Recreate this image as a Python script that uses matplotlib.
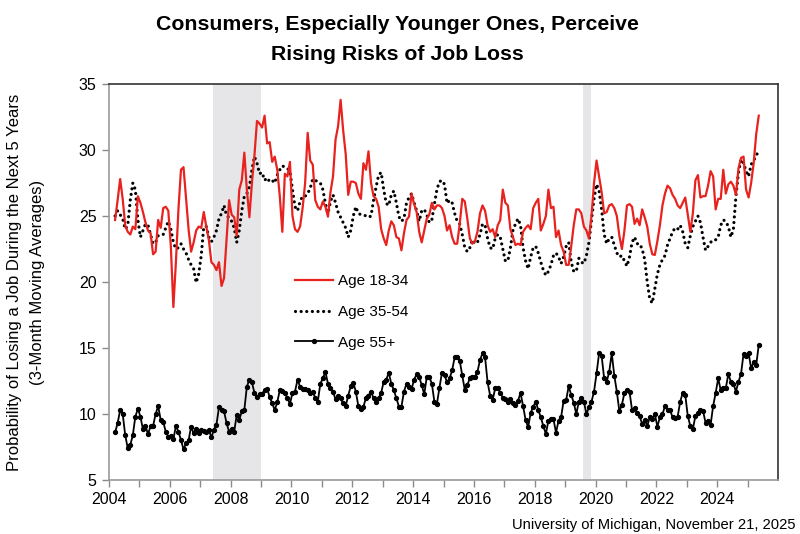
import numpy as np
import matplotlib
matplotlib.use("Agg")
import matplotlib.pyplot as plt

plt.rcParams['font.family'] = ['Liberation Sans', 'DejaVu Sans']

# ---------------- data (monthly, 3-month moving averages) ----------------
start_pos = 2004.2          # axis position of first month
age_18_34 = [
    24.7, 26.2, 27.8, 26.3, 24.3, 23.8, 23.6, 24.2, 24.0, 26.5,
    26.0, 25.3, 24.5, 23.9, 23.7, 22.1, 22.3, 24.7, 24.1, 25.6,
    25.7, 25.4, 22.7, 18.1, 21.5, 25.5, 28.5, 28.7, 26.3, 24.0,
    22.3, 23.0, 23.9, 24.2, 24.1, 25.3, 24.2, 23.2, 21.5, 21.3,
    20.9, 21.5, 19.7, 20.3, 23.3, 26.2, 25.1, 24.9, 23.5, 27.0,
    27.7, 29.8, 27.0, 24.9, 27.5, 29.6, 32.2, 32.0, 31.7, 32.6,
    30.5, 30.6, 29.1, 29.5, 28.5, 26.5, 23.8, 28.2, 28.0, 29.1,
    25.0, 24.0, 23.8, 24.2, 25.6, 27.5, 31.3, 29.2, 28.9, 26.2,
    25.7, 25.5, 26.1, 25.7, 24.95, 26.8, 28.0, 30.8, 31.8, 33.8,
    31.5, 29.7, 26.6, 27.6, 27.6, 27.5, 26.7, 26.3, 29.0, 28.5,
    29.9, 27.5, 26.5, 26.3, 25.7, 24.0, 23.3, 22.8, 23.9, 24.6,
    24.3, 23.4, 23.3, 22.4, 23.7, 24.7, 24.95, 26.7, 25.9, 25.3,
    23.8, 23.0, 23.9, 24.8, 25.1, 26.0, 25.5, 25.8, 25.8, 25.6,
    25.0, 23.9, 24.3, 23.4, 22.9, 22.9, 24.4, 26.3, 26.1, 24.8,
    23.3, 22.9, 23.1, 23.8, 25.2, 25.8, 25.4, 24.3, 23.8, 24.0,
    23.4, 24.3, 24.7, 27.0, 26.0, 25.8, 24.0, 23.4, 22.8, 22.9,
    22.8, 23.8, 24.1, 24.3, 24.0, 25.6, 26.0, 26.3, 23.9, 24.4,
    25.0, 27.0, 25.6, 25.7, 23.4, 23.9, 22.8, 22.3, 21.3, 21.3,
    22.7, 24.3, 25.5, 25.5, 25.2, 24.2, 23.9, 23.3, 25.0, 27.5,
    29.2, 28.0, 26.8, 25.2, 25.3, 25.8, 25.9, 25.6, 25.0, 23.5,
    22.5, 23.9, 25.8, 25.9, 25.7, 24.4, 24.8, 24.3, 25.5, 24.9,
    24.2, 22.9, 22.1, 22.05, 23.1, 24.3, 25.8, 26.7, 27.3, 27.1,
    26.6, 26.3, 25.8, 25.6, 26.0, 26.4, 25.1, 23.8, 25.2, 27.7,
    28.1, 26.4, 26.5, 26.5, 27.3, 28.4, 28.0, 25.5, 26.3, 26.3,
    28.5, 26.7, 27.4, 27.6, 27.3, 26.6, 28.6, 29.4, 29.5, 27.0,
    26.4, 27.5, 29.0, 31.2, 32.6,
]
age_35_54 = [
    25.0, 25.4, 25.1, 24.8, 24.0, 24.3, 26.2, 27.5, 27.0, 24.7,
    23.4, 23.9, 24.4, 24.3, 23.6, 22.9, 23.0, 23.5, 23.6, 23.6,
    24.1, 24.6, 24.0, 23.0, 22.5, 22.6, 22.9, 22.5, 22.2, 21.7,
    21.3, 21.0, 19.95, 20.6, 22.0, 24.2, 24.2, 23.4, 23.05, 23.4,
    23.9, 24.8, 25.2, 25.8, 25.0, 24.9, 24.6, 24.1, 23.0, 23.9,
    25.4, 26.5, 26.7, 27.2, 28.5, 29.5, 29.0, 28.2, 28.3, 27.7,
    27.9, 27.6, 27.7, 27.5, 28.1, 28.5, 28.8, 28.7, 28.6, 28.4,
    27.0, 25.7, 25.4, 26.1, 26.5, 26.5, 26.7, 27.1, 27.8, 27.7,
    27.6, 27.5, 27.0, 25.96, 25.2, 26.1, 26.6, 26.0, 25.3, 24.9,
    24.5, 24.1, 23.4, 23.9, 25.0, 25.7, 25.2, 25.1, 25.1, 25.0,
    24.9, 25.0, 26.2, 27.2, 28.1, 28.3, 27.0, 25.96, 25.8, 26.6,
    26.9, 26.0, 24.95, 24.6, 24.8, 26.0, 26.4, 26.7, 26.0, 25.4,
    24.6, 25.4, 25.5, 25.1, 24.5, 24.7, 25.9, 27.0, 27.6, 27.7,
    27.4, 25.96, 26.2, 26.0, 25.2, 24.6, 24.4, 23.6, 22.6, 22.3,
    22.6, 23.2, 22.9, 23.0, 23.6, 24.4, 24.3, 23.3, 22.6, 22.5,
    23.3, 23.6, 23.4, 22.5, 21.6, 21.6, 22.6, 23.9, 24.4, 24.8,
    24.3, 22.6, 21.6, 21.0, 21.9, 22.6, 22.7, 22.2, 21.5, 20.9,
    20.5, 20.8, 21.3, 22.0, 22.2, 21.9, 21.4, 21.9, 22.7, 23.0,
    21.5, 20.8, 20.8, 21.8, 21.5, 21.4, 22.0, 23.0, 24.7, 26.3,
    27.4, 26.9, 25.5, 23.6, 22.9, 23.3, 23.4, 22.8, 22.2, 21.9,
    22.0, 21.6, 21.2, 21.9, 23.0, 23.4, 22.9, 22.9, 22.5, 21.7,
    20.0, 18.7, 18.4, 19.5, 20.6, 21.3, 21.7, 22.0, 22.8, 23.3,
    23.8, 24.1, 24.0, 24.3, 23.8, 22.9, 22.6, 23.5, 24.2, 24.6,
    25.0, 24.5, 23.4, 22.4, 22.7, 23.0, 23.2, 23.2, 23.4, 24.3,
    24.7, 24.6, 24.2, 23.4, 24.0, 26.5, 28.3, 29.3, 29.0, 28.4,
    28.0, 28.9, 29.2, 29.6, 29.9,
]
age_55_plus = [
    8.6, 9.3, 10.3, 10.0, 8.4, 7.4, 7.65, 8.4, 9.8, 10.4,
    9.8, 8.84, 9.1, 8.46, 9.1, 9.1, 10.0, 10.6, 9.55, 9.4,
    8.66, 8.28, 8.33, 8.08, 9.09, 8.66, 8.03, 7.32, 7.78, 8.0,
    9.04, 8.53, 8.9, 8.53, 8.8, 8.7, 8.66, 8.8, 8.23, 8.8,
    9.2, 10.5, 10.3, 10.2, 9.3, 8.66, 8.9, 8.66, 9.93, 9.55,
    10.2, 10.3, 12.07, 12.6, 12.4, 11.6, 11.3, 11.5, 11.55, 11.8,
    11.9, 11.3, 10.8, 10.3, 10.9, 11.8, 11.75, 11.6, 11.2, 10.76,
    11.6, 11.7, 12.6, 12.07, 11.9, 11.9, 11.8, 11.6, 11.7, 11.2,
    10.93, 12.3, 12.7, 13.2, 12.3, 11.95, 11.7, 11.1, 11.4, 11.2,
    10.8, 10.6, 11.4, 12.1, 12.37, 11.7, 10.6, 10.35, 10.56, 11.2,
    11.4, 11.7, 11.2, 10.93, 11.2, 11.6, 12.45, 12.6, 13.13, 12.3,
    11.8, 11.2, 10.56, 10.56, 11.7, 12.3, 12.05, 11.9, 12.6, 13.03,
    12.8, 12.2, 11.5, 12.8, 12.8, 12.3, 10.93, 10.76, 12.0, 13.13,
    12.95, 12.4, 12.7, 13.3, 14.3, 14.3, 14.04, 12.95, 11.82, 12.2,
    12.7, 12.78, 12.83, 13.2, 14.09, 14.6, 14.3, 12.4, 11.4, 11.06,
    11.95, 11.95, 11.6, 11.24, 11.1, 10.9, 11.1, 10.8, 10.68, 11.0,
    11.6, 10.6, 9.55, 8.99, 10.1, 10.55, 10.93, 10.3, 9.75, 9.09,
    8.48, 9.5, 9.6, 9.6, 8.59, 9.5, 9.75, 11.0, 11.06, 12.1,
    11.44, 10.86, 10.0, 10.93, 11.2, 10.93, 10.0, 10.5, 10.93, 11.7,
    13.08, 14.6, 14.4, 12.7, 12.45, 13.2, 14.6, 12.9, 11.7, 10.2,
    10.7, 11.6, 11.82, 11.7, 10.3, 10.43, 10.05, 9.85, 9.24, 9.55,
    9.09, 9.75, 9.6, 10.0, 9.04, 9.75, 9.98, 10.6, 10.3, 10.3,
    9.75, 9.67, 9.8, 10.93, 11.6, 11.44, 9.85, 9.09, 8.84, 9.85,
    10.05, 10.3, 10.25, 9.35, 9.5, 9.17, 10.6, 11.6, 12.7, 11.8,
    12.0, 11.95, 13.03, 12.45, 12.3, 11.7, 12.45, 13.03, 14.55, 14.4,
    14.6, 13.46, 13.95, 13.7, 15.23,
]
series_labels = ["Age 18-34", "Age 35-54", "Age 55+"]
recessions = [(2007.42, 2008.99), (2019.58, 2019.84)]
x_tick_years = list(range(2004, 2026))
y_ticks = [5, 10, 15, 20, 25, 30, 35]
title_lines = ["Consumers, Especially Younger Ones, Perceive", "Rising Risks of Job Loss"]
ylabel_lines = ["Probability of Losing a Job During the Next 5 Years", "(3-Month Moving Averages)"]
source_text = "University of Michigan, November 21, 2025"

# ---------------- figure ----------------
W, H = 800, 534
fig = plt.figure(figsize=(W / 100, H / 100), dpi=100)
ax = fig.add_axes([109 / W, 1 - 480 / H, (778 - 109) / W, (480 - 84) / H])

for a, b in recessions:
    ax.axvspan(a, b, color='#e6e6e9', lw=0, zorder=0)

def xpos(vals):
    return start_pos + np.arange(len(vals)) / 12.0

l1, = ax.plot(xpos(age_18_34), age_18_34, color='#e8221e', lw=1.6, zorder=3,
              label=series_labels[0])
l2, = ax.plot(xpos(age_35_54), age_35_54, color='black', lw=2.3, ls=(0, (0.01, 1.75)),
              dash_capstyle='round', zorder=2, label=series_labels[1])
l3, = ax.plot(xpos(age_55_plus), age_55_plus, color='black', lw=1.3, marker='o',
              markersize=2.8, zorder=3, label=series_labels[2])

ax.set_xlim(2004, 2026)
ax.set_ylim(5, 35)
ax.set_xticks(x_tick_years)
ax.set_xticklabels([str(y) if y % 2 == 0 else '' for y in x_tick_years])
ax.set_yticks(y_ticks)
ax.tick_params(axis='both', direction='out', length=5, width=1, color='#8a8a8a',
               labelsize=11.5, labelcolor='black', pad=4)

for s in ['left', 'bottom']:
    ax.spines[s].set_color('#9a9a9a')
    ax.spines[s].set_linewidth(1.2)
for s in ['top', 'right']:
    ax.spines[s].set_color('#333333')
    ax.spines[s].set_linewidth(1.2)

leg = ax.legend(handles=[l1, l2, l3], loc='center left',
                bbox_to_anchor=(295 / W, 1 - 312 / H), bbox_transform=fig.transFigure,
                frameon=False, fontsize=11, handlelength=2.5, handletextpad=0.3,
                labelspacing=1.1, borderpad=0, borderaxespad=0)

fig.text(0.497, 1 - 30 / H, title_lines[0], ha='center', va='baseline',
         fontsize=15.3, fontweight='bold')
fig.text(0.497, 1 - 60 / H, title_lines[1], ha='center', va='baseline',
         fontsize=15.3, fontweight='bold')

fig.text(15 / W, 1 - 282 / H, ylabel_lines[0], rotation=90, ha='center', va='center',
         fontsize=12)
fig.text(38 / W, 1 - 282 / H, ylabel_lines[1], rotation=90, ha='center', va='center',
         fontsize=12)

fig.text(795 / W, 1 - 529 / H, source_text, ha='right', va='baseline', fontsize=10.6)

fig.savefig('out.png', dpi=100)
